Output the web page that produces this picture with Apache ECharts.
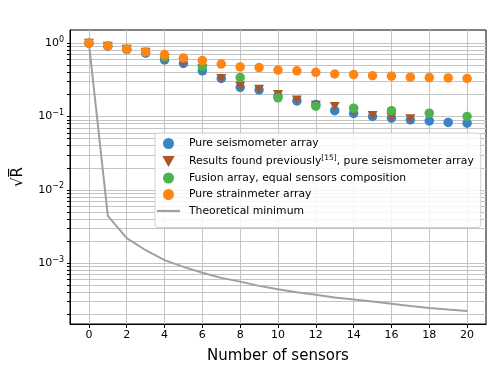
<!DOCTYPE html>
<html>
<head>
<meta charset="utf-8">
<script src="https://cdn.jsdelivr.net/npm/echarts@6/dist/echarts.min.js"></script>
<style>
  html, body { margin: 0; padding: 0; background: #fff; }
  #chart { width: 498px; height: 374px; }
</style>
</head>
<body>
<div id="chart"></div>
<script>
// number of sensors
var sensors = [0, 1, 2, 3, 4, 5, 6, 7, 8, 9, 10, 11, 12, 13, 14, 15, 16, 17, 18, 19, 20];
var sensorsPrev = [0, 1, 2, 3, 4, 5, 6, 7, 8, 9, 10, 11, 12, 13, 14, 15, 16, 17];
var sensorsEven = [0, 2, 4, 6, 8, 10, 12, 14, 16, 18, 20];

// sqrt(R) values
var seismo = [1.0, 0.91, 0.82, 0.73, 0.59, 0.53, 0.42, 0.33, 0.25, 0.23, 0.19, 0.163, 0.146, 0.12, 0.11, 0.10, 0.095, 0.09, 0.087, 0.083, 0.081];
var previous = [1.0, 0.91, 0.83, 0.75, 0.61, 0.54, 0.45, 0.33, 0.26, 0.235, 0.20, 0.168, 0.142, 0.137, 0.115, 0.103, 0.098, 0.093];
var fusion = [1.0, 0.82, 0.65, 0.48, 0.34, 0.18, 0.138, 0.13, 0.12, 0.111, 0.10];
var strain = [1.0, 0.92, 0.83, 0.76, 0.70, 0.63, 0.58, 0.52, 0.475, 0.465, 0.43, 0.42, 0.40, 0.38, 0.373, 0.36, 0.355, 0.344, 0.34, 0.336, 0.33];
var theoMin = [1.0, 0.0044, 0.0022, 0.0015, 0.0011, 0.00089, 0.00074, 0.00063, 0.00056, 0.00049, 0.00044, 0.0004, 0.00037, 0.00034, 0.00032, 0.0003, 0.00028, 0.00026, 0.000245, 0.000233, 0.000222];

var xTicks = [0, 2, 4, 6, 8, 10, 12, 14, 16, 18, 20];
var yDecades = [-3, -2, -1, 0];

// log10 axis: data go through Math.log10, value axis draws them
function pairs(xs, ys) {
  return xs.map(function (x, i) { return [x, Math.log10(ys[i])]; });
}
var yMin = -3.83, yMax = 0.18;
var yGrid = [];
for (var d = -4; d <= 0; d++) {
  for (var k = 1; k <= 9; k++) {
    var v = d + Math.log10(k);
    if (v >= yMin && v <= yMax) yGrid.push(v);
  }
}

var font = 'DejaVu Sans';
var chart = echarts.init(document.getElementById('chart'));
chart.setOption({
  animation: false,
  textStyle: { fontFamily: font },
  grid: { left: 70, right: 12, top: 30, bottom: 50, show: true, borderColor: '#000', borderWidth: 1, backgroundColor: 'transparent' },
  legend: {
    orient: 'vertical',
    left: 155,
    top: 133,
    padding: [5, 7, 11, 2],
    itemGap: 5.5,
    itemWidth: 23,
    itemHeight: 11,
    backgroundColor: 'rgba(255,255,255,0.85)',
    borderColor: '#d0d0d0',
    borderWidth: 1,
    borderRadius: 3,
    textStyle: {
      fontFamily: font, fontSize: 10.8, color: '#000', padding: [0, 0, 0, 4],
      rich: { s: { fontSize: 7.5, fontFamily: font, padding: [0, 0, 6, 0] } }
    },
    formatter: function (name) {
      return name.replace('[15]', '{s|[15]}');
    },
    data: [
      { name: 'Pure seismometer array', icon: 'circle' },
      { name: 'Results found previously[15], pure seismometer array', icon: 'path://M0,0L10,0L5,9Z' },
      { name: 'Fusion array, equal sensors composition', icon: 'circle' },
      { name: 'Pure strainmeter array', icon: 'circle' },
      { name: 'Theoretical minimum', icon: 'path://M0,0H23V2.2H0Z' }
    ]
  },
  xAxis: {
    type: 'value',
    min: -1,
    max: 21,
    name: 'Number of sensors',
    nameLocation: 'middle',
    nameGap: 25,
    nameTextStyle: { fontFamily: font, fontSize: 15, color: '#000' },
    axisLine: { show: true, onZero: false, lineStyle: { color: '#000', width: 1 } },
    axisTick: { show: true, length: 4, customValues: xTicks, lineStyle: { color: '#000' } },
    axisLabel: { customValues: xTicks, fontFamily: font, fontSize: 11, color: '#000', margin: 6 },
    splitLine: { show: true, lineStyle: { color: '#c4c4c4', width: 1 } }
  },
  yAxis: {
    type: 'value',
    min: yMin,
    max: yMax,
    name: '\u221AR\u0305',
    nameLocation: 'middle',
    nameGap: 44,
    nameRotate: 90,
    nameTextStyle: { fontFamily: font, fontSize: 15, color: '#000' },
    axisLine: { show: true, onZero: false, lineStyle: { color: '#000', width: 1 } },
    axisTick: { show: true, length: 3, customValues: yGrid, lineStyle: { color: '#000' } },
    axisLabel: {
      customValues: yDecades,
      margin: 6,
      color: '#000',
      formatter: function (v) {
        var e = Math.round(v);
        return '{b|10}{s|' + (e < 0 ? '\u2212' + (-e) : e) + '}';
      },
      rich: {
        b: { fontFamily: font, fontSize: 11, color: '#000' },
        s: { fontFamily: font, fontSize: 8, color: '#000', padding: [0, 0, 7, 0] }
      }
    },
    splitLine: { show: true, lineStyle: { color: '#c4c4c4', width: 1 } }
  },
  series: [
    {
      name: 'Theoretical minimum',
      type: 'line',
      data: pairs(sensors, theoMin),
      smooth: false,
      showSymbol: false,
      symbol: 'none',
      lineStyle: { color: '#a0a0a0', width: 2 },
      itemStyle: { color: '#a0a0a0' },
      z: 1
    },
    {
      name: 'Pure seismometer array',
      type: 'scatter',
      data: pairs(sensors, seismo),
      symbol: 'circle',
      symbolSize: 9.5,
      itemStyle: { color: '#3b84c3', opacity: 1 },
      z: 2
    },
    {
      name: 'Results found previously[15], pure seismometer array',
      type: 'scatter',
      data: pairs(sensorsPrev, previous),
      symbol: 'path://M0,0L10,0L5,9Z',
      symbolSize: [10, 9],
      itemStyle: { color: '#a8562a', opacity: 1 },
      z: 3
    },
    {
      name: 'Fusion array, equal sensors composition',
      type: 'scatter',
      data: pairs(sensorsEven, fusion),
      symbol: 'circle',
      symbolSize: 9.5,
      itemStyle: { color: '#4db34d', opacity: 1 },
      z: 4
    },
    {
      name: 'Pure strainmeter array',
      type: 'scatter',
      data: pairs(sensors, strain),
      symbol: 'circle',
      symbolSize: 9.5,
      itemStyle: { color: '#ff8614', opacity: 1 },
      z: 5
    }
  ]
});
</script>
</body>
</html>
